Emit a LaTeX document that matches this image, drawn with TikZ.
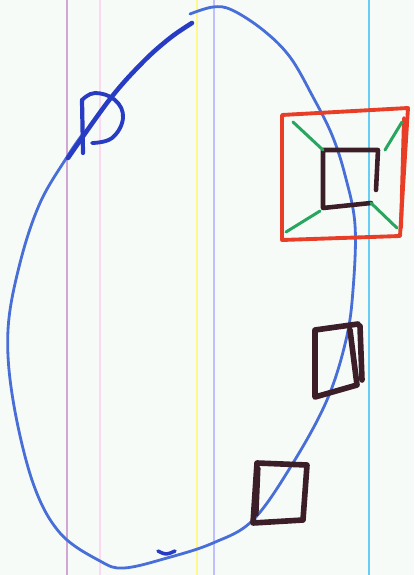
\documentclass[tikz,border=0pt]{standalone}
\definecolor{paper}{RGB}{247,251,248}
\definecolor{penblue}{RGB}{72,110,215}
\definecolor{inkblue}{RGB}{40,60,195}
\definecolor{penred}{RGB}{232,62,40}
\definecolor{pengreen}{RGB}{40,165,95}
\definecolor{inkdark}{RGB}{60,30,40}
\begin{document}
\begin{tikzpicture}[x=0.02cm, y=-0.02cm, line cap=round, line join=round,
  loopline/.style={draw=penblue, line width=1.6pt},
  boxline/.style={draw=inkdark, line width=3.2pt},
  frameline/.style={draw=penred, line width=2.2pt},
  tieline/.style={draw=pengreen, line width=1.7pt}]
  \fill[paper] (0,0) rectangle (414,575);
  \useasboundingbox (0,0) rectangle (414,575);
  % ruled paper
  \foreach \x/\c in {67/violet!35, 100/magenta!15, 197/yellow!45, 214/blue!25, 369/cyan!60}
    {\draw[\c, line width=0.6pt] (\x,0) -- (\x,575);}
  % the big loop
  \draw[loopline] plot[smooth, tension=0.6] coordinates {(190,14) (213,7) (232,10) (263,30) (290,57) (313,97)
    (332,135) (345,175) (355,225) (353,290) (346,340) (327,400) (293,463) (253,520) (213,543)
    (167,558) (124,568) (100,561) (60,533) (33,483) (13,400) (8,330) (20,263) (40,203) (67,157) (82,135)};
  \draw[draw=inkblue, line width=2.6pt] plot[smooth, tension=0.6] coordinates {(68,158) (110,99) (143,62) (170,38) (192,23)};
  % P-like mark
  \draw[draw=inkblue, line width=2.4pt] (83,153) -- (82,100);
  \draw[draw=inkblue, line width=2.2pt] plot[smooth, tension=0.7] coordinates {(82,100) (95,93) (115,100) (123,118) (112,138) (92,143)};
  % framed square
  \coordinate (tl) at (282,115);
  \coordinate (tr) at (408,108);
  \coordinate (br) at (400,236);
  \coordinate (bl) at (282,240);
  \draw[frameline] (tl) -- (tr) -- (br) -- (bl) -- cycle;
  \draw[frameline] (404,118) -- (401,228);
  \coordinate (itl) at (323,150);
  \coordinate (itr) at (378,150);
  \coordinate (ibr) at (371,203);
  \coordinate (ibl) at (323,208);
  \draw[boxline, line width=2.6pt] (376,190) -- (itr) -- (itl) -- (ibl) -- (ibr);
  \draw[tieline] (293,122) -- (itl);
  \draw[tieline] (402,122) -- (385,150);
  \draw[tieline] (286,232) -- (320,211);
  \draw[tieline] (ibr) -- (397,228);
  % loose squares
  \draw[boxline] (358,324) -- (315,330) -- (315,397) -- (357,385) -- (350,330);
  \draw[boxline] (360,326) -- (362,380);
  \draw[boxline] (303,520) -- (307,465) -- (257,463) -- (253,523) -- (303,520);
  \draw[boxline, line width=1.8pt] (259,468) -- (257,515);
  % stray dash
  \draw[draw=inkblue, line width=2pt] (158,551) .. controls (166,555) .. (175,551);
\end{tikzpicture}
\end{document}
